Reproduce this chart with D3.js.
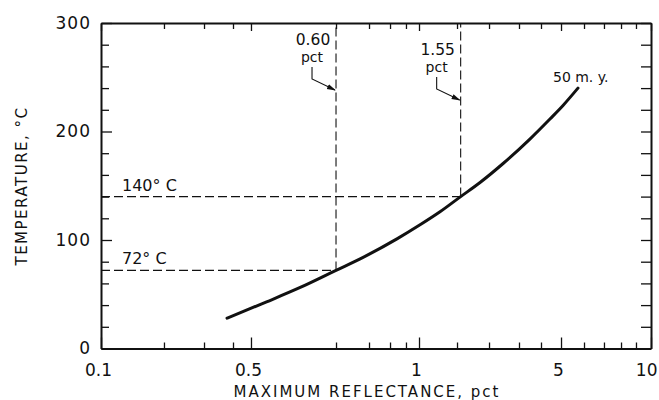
<!DOCTYPE html>
<html>
<head>
<meta charset="utf-8">
<script src="https://cdn.jsdelivr.net/npm/d3@7"></script>
<style>
  html, body { margin: 0; padding: 0; background: #fff; }
  svg { display: block; font-family: "DejaVu Sans", sans-serif; }
</style>
</head>
<body>
<svg id="chart" width="659" height="400"></svg>
<script>
// Burial curve: temperature against maximum vitrinite reflectance (50 m.y.)
const reflectance = [0.377, 0.517, 0.555, 0.60, 0.681, 0.842, 1.011, 1.251, 1.55, 1.845, 2.42, 3.46, 4.42, 5.08, 5.72];
const temperature = [28, 43, 56, 72, 84, 101, 114, 126, 140, 153, 170.5, 193, 211.5, 224, 240];

// Axis ticks as drafted on the original scale
const xMajorTicks = [0.1, 0.5, 1, 5, 10];
const xTickLabels = ["0.1", "0.5", "1", "5", "10"];
const xMinorTicks = [0.2, 0.3, 0.4, 0.6, 0.7, 0.8, 0.9, 1.5, 2, 3, 4, 6, 7, 8, 9];
const yMajorTicks = [0, 100, 200, 300];
const yTickLabels = ["0", "100", "200", "300"];
const yMinorTicks = [20, 40, 60, 80, 120, 140, 160, 180, 220, 240, 260, 280];

// Threshold markers: reflectance reached at each temperature
const markerReflectance = [0.60, 1.55];
const markerTemperature = [72, 140];
const markerValueLabels = ["0.60", "1.55"];
const markerUnitLabels = ["pct", "pct"];
const markerTempLabels = ["72° C", "140° C"];

const curveLabel = "50 m. y.";
const xTitle = "MAXIMUM REFLECTANCE, pct";
const yTitle = "TEMPERATURE, °C";

const W = 659, H = 400;
const margin = { top: 23, right: 8, bottom: 51.5, left: 101 };
const width = W - margin.left - margin.right;
const height = H - margin.top - margin.bottom;
const ink = "#111";

// The printed reflectance axis is hand-drafted and not a uniform log scale,
// so a piecewise log scale is pinned at each drafted tick.
const xStops = [...xMajorTicks, ...xMinorTicks].sort((a, b) => a - b);
const xStopFractions = [0, .1145, .1873, .24, .2727, .4273, .4873, .5255, .5545, .5782,
                        .6473, .7055, .76, .8, .8364, .8782, .9145, .9455, .9727, 1];
const x = d3.scaleLog().domain(xStops).range(xStopFractions.map(f => f * width));
const y = d3.scaleLinear().domain([0, 300]).range([height, 0]);

const svg = d3.select("#chart");
svg.append("rect").attr("width", W).attr("height", H).attr("fill", "#fff");

const defs = svg.append("defs");
defs.append("marker")
  .attr("id", "arrow").attr("viewBox", "0 -4 9 8")
  .attr("refX", 8).attr("refY", 0)
  .attr("markerWidth", 9).attr("markerHeight", 8)
  .attr("markerUnits", "userSpaceOnUse")
  .attr("orient", "auto")
  .append("path").attr("d", "M0,-2.6L9,0L0,2.6Z").attr("fill", ink);

const g = svg.append("g").attr("transform", `translate(${margin.left},${margin.top})`);

function styleAxis(sel, fontSize) {
  sel.attr("font-family", "DejaVu Sans, sans-serif").attr("font-size", fontSize);
  sel.selectAll("line").attr("stroke", ink).attr("stroke-width", 1.3);
  sel.selectAll("path.domain").attr("stroke", ink).attr("stroke-width", 2);
  sel.selectAll("text").attr("fill", ink);
}

// Bottom axis: inward ticks, long at labelled values
g.append("g").attr("transform", `translate(0,${height})`)
  .call(d3.axisBottom(x).tickValues(xMinorTicks).tickSizeInner(-6).tickSizeOuter(0).tickFormat(""))
  .call(s => s.select(".domain").remove())
  .call(s => styleAxis(s, 17));
g.append("g").attr("transform", `translate(0,${height})`)
  .call(d3.axisBottom(x).tickValues(xMajorTicks).tickSizeInner(-11).tickSizeOuter(0)
    .tickPadding(15).tickFormat((d, i) => xTickLabels[i]))
  .call(s => styleAxis(s, 17))
  .call(s => s.selectAll(".tick text").attr("dx", -3))
  .call(s => s.selectAll(".tick:last-of-type text").attr("text-anchor", "end").attr("dx", 6));

// Top axis: short inward ticks, no labels
g.append("g")
  .call(d3.axisTop(x).tickValues(xMinorTicks).tickSizeInner(-6).tickSizeOuter(0).tickFormat(""))
  .call(s => s.select(".domain").remove())
  .call(s => styleAxis(s, 17));
g.append("g")
  .call(d3.axisTop(x).tickValues(xMajorTicks).tickSizeInner(-8).tickSizeOuter(0).tickFormat(""))
  .call(s => styleAxis(s, 17));

// Left axis
g.append("g")
  .call(d3.axisLeft(y).tickValues(yMinorTicks).tickSizeInner(-8).tickSizeOuter(0).tickFormat(""))
  .call(s => s.select(".domain").remove())
  .call(s => styleAxis(s, 17));
g.append("g")
  .call(d3.axisLeft(y).tickValues(yMajorTicks).tickSizeInner(-11).tickSizeOuter(0)
    .tickPadding(10).tickFormat((d, i) => yTickLabels[i]))
  .call(s => styleAxis(s, 17))
  .call(s => s.selectAll(".tick text").attr("letter-spacing", 1));

// Right axis
g.append("g").attr("transform", `translate(${width},0)`)
  .call(d3.axisRight(y).tickValues([...yMinorTicks, ...yMajorTicks]).tickSizeInner(-10).tickSizeOuter(0).tickFormat(""))
  .call(s => styleAxis(s, 17));

// Dashed guide lines from each temperature to the curve and up to the top
const dash = "9,4";
markerReflectance.forEach((r, i) => {
  const t = markerTemperature[i];
  g.append("line")
    .attr("x1", 0).attr("x2", x(r)).attr("y1", y(t)).attr("y2", y(t))
    .attr("stroke", ink).attr("stroke-width", 1.1).attr("stroke-dasharray", dash);
  g.append("line")
    .attr("x1", x(r)).attr("x2", x(r)).attr("y1", y(t)).attr("y2", 0)
    .attr("stroke", ink).attr("stroke-width", 1.1).attr("stroke-dasharray", dash);

  g.append("text")
    .attr("x", 21).attr("y", y(t) - 6)
    .attr("font-size", 16).attr("fill", ink)
    .text(markerTempLabels[i]);

  // value label with leader arrow to the vertical guide
  const drop = [0, 10][i];
  const tipX = x(r) - 1;
  const tipY = 67 + drop;
  g.append("text")
    .attr("x", tipX - 22).attr("y", 22 + drop)
    .attr("text-anchor", "middle").attr("font-size", 15.5).attr("fill", ink)
    .text(markerValueLabels[i]);
  g.append("text")
    .attr("x", tipX - 23).attr("y", 39 + drop)
    .attr("text-anchor", "middle").attr("font-size", 14).attr("fill", ink)
    .text(markerUnitLabels[i]);
  g.append("path")
    .attr("d", `M${tipX - 23},${tipY - 23}V${tipY - 11}L${tipX},${tipY}`)
    .attr("fill", "none").attr("stroke", ink).attr("stroke-width", 1.1)
    .attr("marker-end", "url(#arrow)");
});

// The burial curve
const pts = reflectance.map((r, i) => [x(r), y(temperature[i])]);
g.append("path")
  .attr("d", d3.line().curve(d3.curveMonotoneX)(pts))
  .attr("fill", "none").attr("stroke", ink).attr("stroke-width", 3)
  .attr("stroke-linecap", "round");

const last = pts[pts.length - 1];
g.append("text")
  .attr("x", last[0] - 25).attr("y", last[1] - 6)
  .attr("font-size", 14).attr("fill", ink)
  .text(curveLabel);

// Axis titles
svg.append("text")
  .attr("x", margin.left + 266).attr("y", 397)
  .attr("text-anchor", "middle").attr("font-size", 15)
  .attr("letter-spacing", 2).attr("fill", ink)
  .text(xTitle);
svg.append("text")
  .attr("transform", `translate(27,${186}) rotate(-90)`)
  .attr("text-anchor", "middle").attr("font-size", 15)
  .attr("letter-spacing", 1.5).attr("fill", ink)
  .text(yTitle);
</script>
</body>
</html>
